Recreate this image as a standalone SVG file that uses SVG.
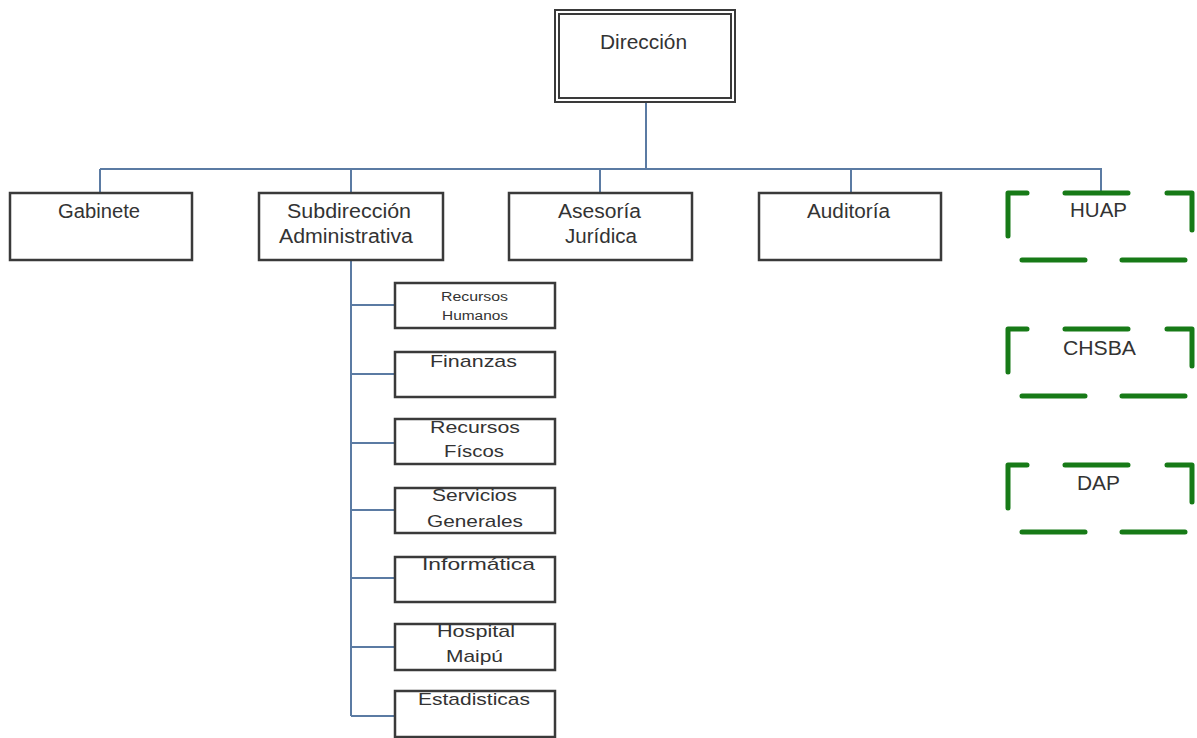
<svg xmlns="http://www.w3.org/2000/svg" xmlns:xlink="http://www.w3.org/1999/xlink" width="1197" height="738" viewBox="0 0 1197 738">
<style>
.box{fill:#fff;stroke:#3a3a3a;stroke-width:2.5}
.dbl{fill:none;stroke:#3a3a3a;stroke-width:2}
.conn{fill:none;stroke:#5b7ba3;stroke-width:2}
.dash{fill:none;stroke:#177a17;stroke-width:5;stroke-linecap:round;stroke-linejoin:round}
text{font-family:"Liberation Sans",Arial,sans-serif;fill:#333}
.t20{font-size:20px}
.t17{font-size:17px}
.t12{font-size:12px}
</style>
<defs>
<path id="dashbox" class="dash" d="M1008,43 L1008,0 L1027,0 M1065,0 L1128,0 M1167,0 L1192,0 L1192,37 M1022,67 L1085,67 M1122,67 L1185,67"/>
</defs>
<rect width="1197" height="738" fill="#fff"/>
<g id="connectors">
<path class="conn" d="M646,102 V169 M100,169 H1102 M100,169 V193 M351,169 V193 M600,169 V193 M851,169 V193 M1101,169 V193"/>
<path class="conn" d="M351,260 V716 M351,305 H395 M351,374 H395 M351,443 H395 M351,510 H395 M351,578 H395 M351,647 H395 M351,716 H395"/>
</g>
<g id="direccion">
<rect x="555" y="10" width="180" height="92" class="dbl" fill="#fff"/>
<rect x="559" y="14" width="172" height="84" class="dbl"/>
<text class="t20" x="600" y="49" textLength="87" lengthAdjust="spacingAndGlyphs">Dirección</text>
</g>
<g id="gabinete">
<rect x="10" y="193" width="182" height="67" class="box"/>
<text class="t20" x="58" y="218" textLength="82" lengthAdjust="spacingAndGlyphs">Gabinete</text>
</g>
<g id="subdireccion">
<rect x="259" y="193" width="184" height="67" class="box"/>
<text class="t20" x="287" y="218" textLength="124" lengthAdjust="spacingAndGlyphs">Subdirección</text>
<text class="t20" x="279" y="243" textLength="134" lengthAdjust="spacingAndGlyphs">Administrativa</text>
</g>
<g id="asesoria">
<rect x="509" y="193" width="183" height="67" class="box"/>
<text class="t20" x="558" y="218" textLength="83" lengthAdjust="spacingAndGlyphs">Asesoría</text>
<text class="t20" x="565" y="243" textLength="72" lengthAdjust="spacingAndGlyphs">Jurídica</text>
</g>
<g id="auditoria">
<rect x="759" y="193" width="182" height="67" class="box"/>
<text class="t20" x="807" y="218" textLength="83" lengthAdjust="spacingAndGlyphs">Auditoría</text>
</g>
<g id="huap">
<use xlink:href="#dashbox" href="#dashbox" transform="translate(0,193)"/>
<text class="t20" x="1070" y="217" textLength="57" lengthAdjust="spacingAndGlyphs">HUAP</text>
</g>
<g id="chsba">
<use xlink:href="#dashbox" href="#dashbox" transform="translate(0,329)"/>
<text class="t20" x="1063" y="355" textLength="73" lengthAdjust="spacingAndGlyphs">CHSBA</text>
</g>
<g id="dap">
<use xlink:href="#dashbox" href="#dashbox" transform="translate(0,465)"/>
<text class="t20" x="1077" y="490" textLength="43" lengthAdjust="spacingAndGlyphs">DAP</text>
</g>
<g id="recursos-humanos">
<rect x="395" y="283" width="160" height="45" class="box"/>
<text class="t12" x="441" y="301" textLength="67" lengthAdjust="spacingAndGlyphs">Recursos</text>
<text class="t12" x="442" y="320" textLength="66" lengthAdjust="spacingAndGlyphs">Humanos</text>
</g>
<g id="finanzas">
<rect x="395" y="352" width="160" height="45" class="box"/>
<text class="t17" x="430" y="367" textLength="87" lengthAdjust="spacingAndGlyphs">Finanzas</text>
</g>
<g id="recursos-fiscos">
<rect x="395" y="419" width="160" height="45" class="box"/>
<text class="t17" x="430" y="433" textLength="90" lengthAdjust="spacingAndGlyphs">Recursos</text>
<text class="t17" x="444" y="457" textLength="60" lengthAdjust="spacingAndGlyphs">Físcos</text>
</g>
<g id="servicios-generales">
<rect x="395" y="488" width="160" height="45" class="box"/>
<text class="t17" x="432" y="501" textLength="85" lengthAdjust="spacingAndGlyphs">Servicios</text>
<text class="t17" x="427" y="527" textLength="96" lengthAdjust="spacingAndGlyphs">Generales</text>
</g>
<g id="informatica">
<rect x="395" y="557" width="160" height="45" class="box"/>
<text class="t17" x="422" y="570" textLength="113" lengthAdjust="spacingAndGlyphs">Informática</text>
</g>
<g id="hospital-maipu">
<rect x="395" y="624" width="160" height="46" class="box"/>
<text class="t17" x="437" y="637" textLength="78" lengthAdjust="spacingAndGlyphs">Hospital</text>
<text class="t17" x="446" y="662" textLength="57" lengthAdjust="spacingAndGlyphs">Maipú</text>
</g>
<g id="estadisticas">
<rect x="395" y="691" width="160" height="46" class="box"/>
<text class="t17" x="418" y="705" textLength="112" lengthAdjust="spacingAndGlyphs">Estadisticas</text>
</g>
</svg>
